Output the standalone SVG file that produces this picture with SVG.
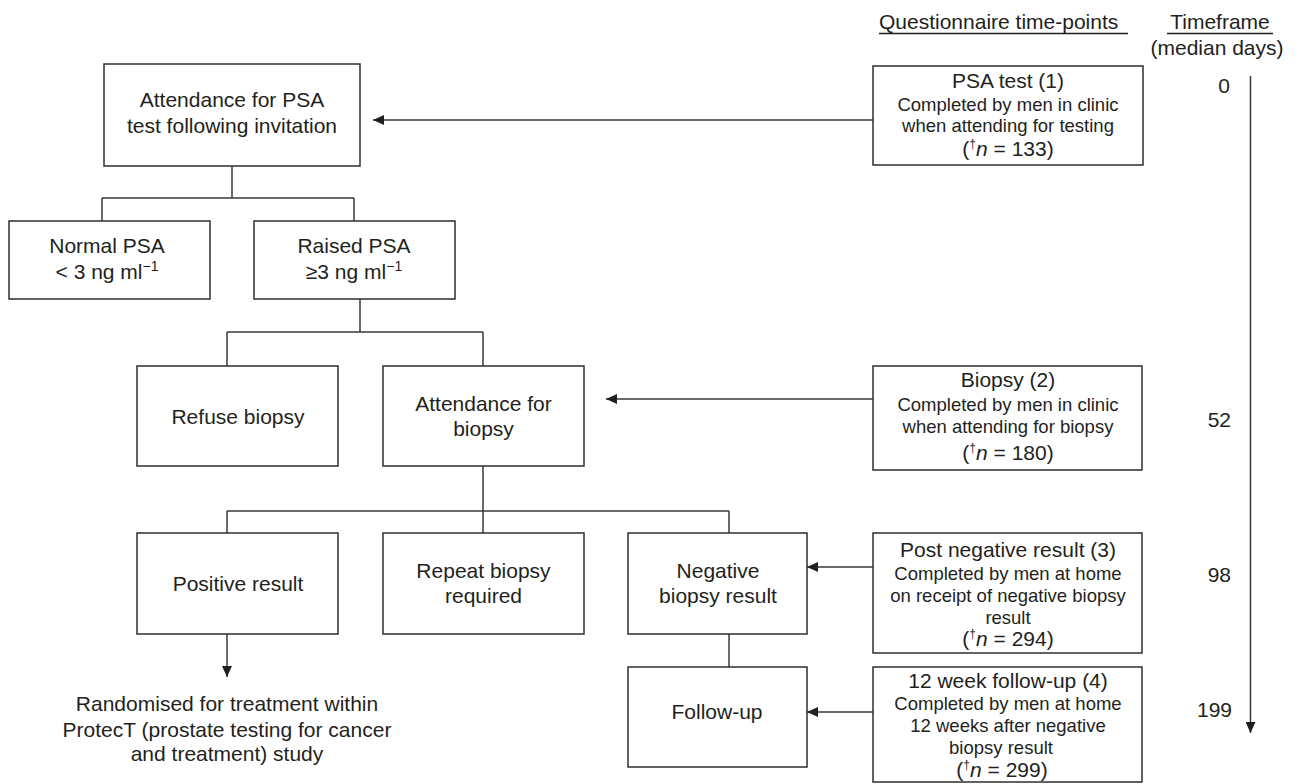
<svg xmlns="http://www.w3.org/2000/svg" width="1296" height="784" viewBox="0 0 1296 784">
<style>
.box{fill:#fff;stroke:#2e2e2e;stroke-width:1.5}
.t{font-family:"Liberation Sans",Arial,sans-serif;font-size:21px;fill:#231f20;text-anchor:middle}
.s{font-family:"Liberation Sans",Arial,sans-serif;font-size:18.5px;fill:#231f20;text-anchor:middle}
.num{font-family:"Liberation Sans",Arial,sans-serif;font-size:21px;fill:#231f20;text-anchor:end}
.c{fill:none;stroke:#3a3a3a;stroke-width:1.5}
.ul{stroke:#231f20;stroke-width:1.3}
</style>
<defs>
<marker id="ah" markerUnits="userSpaceOnUse" markerWidth="11" markerHeight="10" refX="11" refY="5" orient="auto">
<path d="M0,0 L11,5 L0,10 z" fill="#231f20"/>
</marker>
</defs>
<rect width="1296" height="784" fill="#fff"/>

<g id="headers">
<text class="t" x="879" y="29" style="text-anchor:start">Questionnaire time-points</text>
<line class="ul" x1="879" y1="33.5" x2="1128" y2="33.5"/>
<text class="t" x="1220" y="29">Timeframe</text>
<line class="ul" x1="1167" y1="33.5" x2="1273" y2="33.5"/>
<text class="t" x="1217" y="55">(median days)</text>
</g>

<g id="connectors">
<path class="c" d="M232,166 V198 M102,198 H354 M102,198 V221 M354,198 V221"/>
<path class="c" d="M360,299 V332 M227,332 H483 M227,332 V366 M483,332 V366"/>
<path class="c" d="M483,466 V511 M227,511 H729 M227,511 V533 M729,511 V533 M483,511 V533"/>
<path class="c" d="M729,634 V667"/>
<line class="c" x1="227" y1="634" x2="227" y2="677" marker-end="url(#ah)"/>
<line class="c" x1="873" y1="120" x2="373" y2="120" marker-end="url(#ah)"/>
<line class="c" x1="873" y1="399" x2="606" y2="399" marker-end="url(#ah)"/>
<line class="c" x1="873" y1="567" x2="807" y2="567" marker-end="url(#ah)"/>
<line class="c" x1="873" y1="712" x2="807" y2="712" marker-end="url(#ah)"/>
<line class="c" x1="1250.5" y1="76" x2="1250.5" y2="733" marker-end="url(#ah)"/>
</g>

<g id="timeline-labels">
<text class="num" x="1230" y="93">0</text>
<text class="num" x="1231" y="427">52</text>
<text class="num" x="1231" y="582">98</text>
<text class="num" x="1232" y="717">199</text>
</g>

<g id="n-attendance-psa">
<rect class="box" x="104" y="64" width="256" height="102"/>
<text class="t" x="232" y="107">Attendance for PSA</text>
<text class="t" x="232" y="133">test following invitation</text>
</g>

<g id="n-normal-psa">
<rect class="box" x="9" y="221" width="201" height="78"/>
<text class="t" x="107" y="253">Normal PSA</text>
<text class="t" x="107" y="279">&lt; 3 ng ml<tspan dy="-8" font-size="14">−1</tspan></text>
</g>

<g id="n-raised-psa">
<rect class="box" x="254" y="221" width="201" height="78"/>
<text class="t" x="354" y="253">Raised PSA</text>
<text class="t" x="354" y="279">≥3 ng ml<tspan dy="-8" font-size="14">−1</tspan></text>
</g>

<g id="n-refuse">
<rect class="box" x="137" y="366" width="201" height="100"/>
<text class="t" x="238" y="424">Refuse biopsy</text>
</g>

<g id="n-attendance-biopsy">
<rect class="box" x="383" y="366" width="201" height="100"/>
<text class="t" x="483.5" y="411">Attendance for</text>
<text class="t" x="483.5" y="436">biopsy</text>
</g>

<g id="n-positive">
<rect class="box" x="137" y="533" width="201" height="101"/>
<text class="t" x="238" y="591">Positive result</text>
</g>

<g id="n-repeat">
<rect class="box" x="383" y="533" width="201" height="101"/>
<text class="t" x="483.5" y="578">Repeat biopsy</text>
<text class="t" x="483.5" y="603">required</text>
</g>

<g id="n-negative">
<rect class="box" x="628" y="533" width="179" height="101"/>
<text class="t" x="718" y="578">Negative</text>
<text class="t" x="718" y="603">biopsy result</text>
</g>

<g id="n-followup">
<rect class="box" x="628" y="667" width="179" height="100"/>
<text class="t" x="717" y="719">Follow-up</text>
</g>

<g id="n-randomised">
<text class="t" x="227" y="711">Randomised for treatment within</text>
<text class="t" x="227" y="737">ProtecT (prostate testing for cancer</text>
<text class="t" x="227" y="761">and treatment) study</text>
</g>

<g id="q-psa-test">
<rect class="box" x="873" y="66" width="270" height="99"/>
<text class="t" x="1008" y="88">PSA test (1)</text>
<text class="s" x="1008" y="111">Completed by men in clinic</text>
<text class="s" x="1008" y="132">when attending for testing</text>
<text class="t" x="1008" y="156">(<tspan dy="-8" font-size="12">†</tspan><tspan dy="8" font-style="italic">n</tspan> = 133)</text>
</g>

<g id="q-biopsy">
<rect class="box" x="873" y="366" width="269" height="104"/>
<text class="t" x="1008" y="387">Biopsy (2)</text>
<text class="s" x="1008" y="411">Completed by men in clinic</text>
<text class="s" x="1008" y="433">when attending for biopsy</text>
<text class="t" x="1008" y="460">(<tspan dy="-8" font-size="12">†</tspan><tspan dy="8" font-style="italic">n</tspan> = 180)</text>
</g>

<g id="q-post-negative">
<rect class="box" x="873" y="533" width="269" height="120"/>
<text class="t" x="1008" y="557">Post negative result (3)</text>
<text class="s" x="1008" y="580">Completed by men at home</text>
<text class="s" x="1008" y="602">on receipt of negative biopsy</text>
<text class="s" x="1008" y="624">result</text>
<text class="t" x="1008" y="646">(<tspan dy="-8" font-size="12">†</tspan><tspan dy="8" font-style="italic">n</tspan> = 294)</text>
</g>

<g id="q-followup">
<rect class="box" x="873" y="667" width="269" height="115"/>
<text class="t" x="1008" y="688">12 week follow-up (4)</text>
<text class="s" x="1008" y="710">Completed by men at home</text>
<text class="s" x="1008" y="732">12 weeks after negative</text>
<text class="s" x="1001" y="754">biopsy result</text>
<text class="t" x="1002" y="777">(<tspan dy="-8" font-size="12">†</tspan><tspan dy="8" font-style="italic">n</tspan> = 299)</text>
</g>
</svg>
